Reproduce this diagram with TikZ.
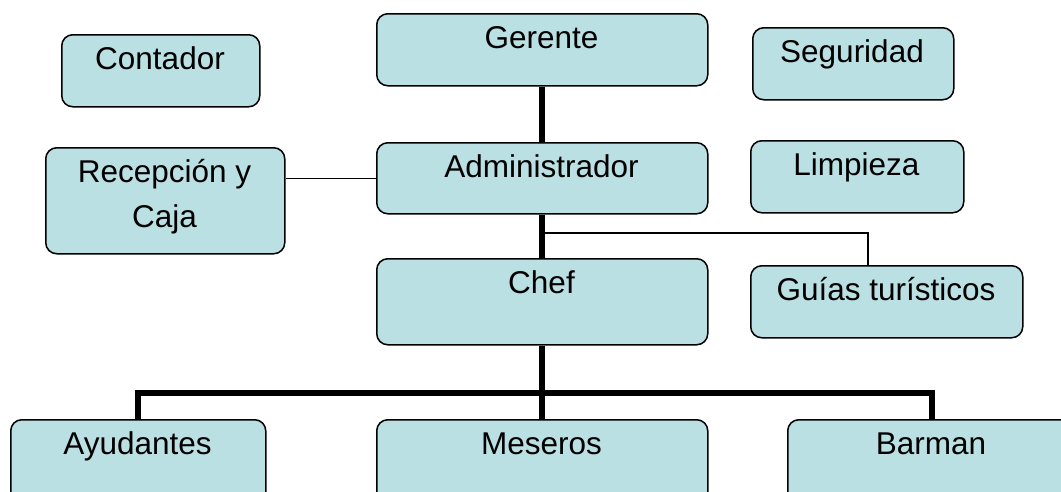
\documentclass[tikz,border=0pt]{standalone}
\usepackage{fontspec}
\setmainfont{Liberation Sans}
\definecolor{boxfill}{RGB}{186,224,227}
\tikzset{
  orgbox/.style={draw=black, line width=1.5pt, fill=boxfill, rounded corners=11pt, anchor=north west, inner sep=0pt},
  lbl/.style={anchor=base, inner sep=0pt, font=\fontsize{31.5}{45}\selectfont},
  thickln/.style={line width=6pt},
  thinln/.style={line width=1.3pt}
}
\begin{document}
\begin{tikzpicture}[x=1pt,y=-1pt]
\useasboundingbox (0,0) rectangle (1061,491);
\clip (0,0) rectangle (1061,491);
% boxes
\node[orgbox, minimum width=331pt, minimum height=72pt] (ger) at (376,13) {};
\node[orgbox, minimum width=198pt, minimum height=72pt] (con) at (61,34) {};
\node[orgbox, minimum width=201pt, minimum height=72pt] (seg) at (752,27) {};
\node[orgbox, minimum width=239pt, minimum height=106pt] (rec) at (45,147) {};
\node[orgbox, minimum width=331pt, minimum height=71pt] (adm) at (376,142) {};
\node[orgbox, minimum width=213pt, minimum height=72pt] (lim) at (750,140) {};
\node[orgbox, minimum width=331pt, minimum height=86pt] (chf) at (376,258) {};
\node[orgbox, minimum width=272pt, minimum height=72pt] (gui) at (750,265) {};
\node[orgbox, minimum width=255pt, minimum height=90pt] (ayu) at (10,419) {};
\node[orgbox, minimum width=331pt, minimum height=90pt] (mes) at (376,419) {};
\node[orgbox, minimum width=288pt, minimum height=90pt] (bar) at (787,419) {};
% labels
\node[lbl] (tger) at (541.5,48) {Gerente};
\node[lbl] (tcon) at (160,69) {Contador};
\node[lbl] (tseg) at (852,62) {Seguridad};
\node[lbl] (trec1) at (164.5,182) {Recepción y};
\node[lbl] (trec2) at (164.5,227) {Caja};
\node[lbl] (tadm) at (541.5,177) {Administrador};
\node[lbl] (tlim) at (856.5,175) {Limpieza};
\node[lbl] (tchf) at (541.5,293) {Chef};
\node[lbl] (tgui) at (886,300) {Guías turísticos};
\node[lbl] (tayu) at (137.5,454) {Ayudantes};
\node[lbl] (tmes) at (541.5,454) {Meseros};
\node[lbl] (tbar) at (931,454) {Barman};
% connectors
\draw[thickln] (ger.south) -- (adm.north);
\draw[thinln] (adm.west) -- (adm.west -| rec.east);
\draw[thickln] (adm.south) -- (chf.north);
\coordinate (gbend) at (868,233);
\draw[thinln] (adm.south |- gbend) -- (gbend) -- (gbend |- gui.north);
\coordinate (barY) at (541.5,393);
\draw[thickln] (chf.south) -- (mes.north);
\draw[thickln] (ayu.north) -- (ayu.north |- barY) -- (bar.north |- barY) -- (bar.north);
\end{tikzpicture}
\end{document}
